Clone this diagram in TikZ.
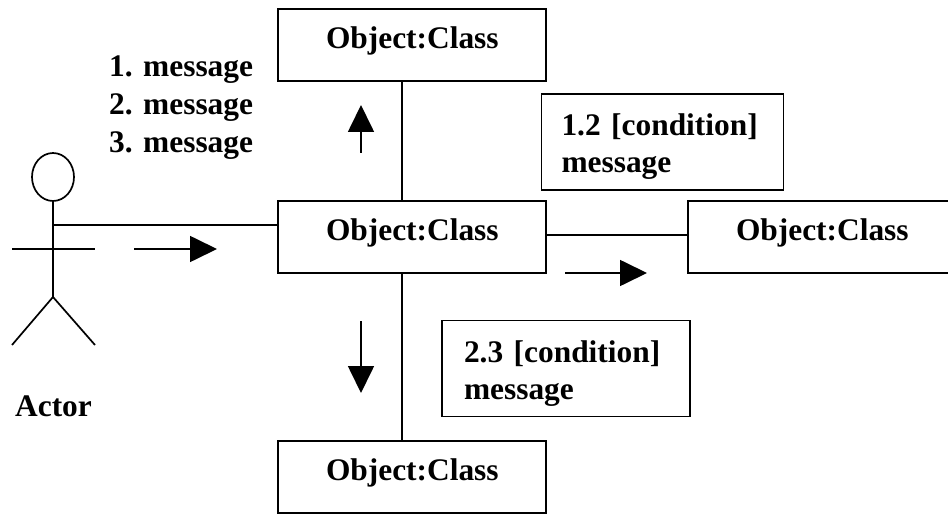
\documentclass[tikz,border=0pt]{standalone}
\usepackage{fontspec}
\setmainfont{Liberation Serif}
\usetikzlibrary{positioning,arrows.meta,shapes.geometric}
\newcommand{\myfont}{\fontsize{31.4}{37}\bfseries\selectfont}
\tikzstyle{block} = [draw, fill=white, rectangle, line width=1.7pt, minimum height=72pt, text width=172pt, inner xsep=48pt, text height=20pt, text depth=13pt, font=\myfont, align=left]
\tikzstyle{note} = [draw, fill=white, rectangle, line width=1.7pt, minimum height=96pt, inner xsep=20pt, text height=31pt, font=\myfont, align=left]
\tikzstyle{line} = [draw, line width=1.7pt]
\tikzstyle{flow} = [line, -{Triangle[length=27pt,width=26pt]}]
\begin{document}
\begin{tikzpicture}[x=1pt, y=1pt, node distance=192.3pt]
        \useasboundingbox (0,0) rectangle (948,-516);

        \node [block] (obj) at (412,-237) {Object:Class};
        \node [block, above of=obj] (top) {Object:Class};
        \node [block, below of=obj, node distance=240pt] (bottom) {Object:Class};
        \node [block, right of=obj, node distance=410pt] (right) {Object:Class};

        \node [note, text width=202pt] (note1) at (662.5,-142) {1.2 [condition]\\message};
        \node [note, text width=204pt, inner xsep=22pt] (note2) at (566,-368.5) {2.3 [condition]\\message};

        \node [font=\myfont, align=left, anchor=north west, inner sep=0pt] (msgs) at (109,-56) {1. message\\[1pt]2. message\\[1pt]3. message};

        % actor
        \node [draw, ellipse, line width=1.7pt, minimum width=42pt, minimum height=48pt, inner sep=0pt] (head) at (53,-177) {};
        \node [coordinate, below of=head, node distance=48pt] (shoulder) {};
        \node [coordinate, below of=head, node distance=72pt] (arms) {};
        \node [coordinate, below of=head, node distance=120pt] (hip) {};
        \node [coordinate, left of=arms, node distance=41pt] (lhand) {};
        \node [coordinate, right of=arms, node distance=42pt] (rhand) {};
        \node [coordinate] (lfoot) at (12,-345) {};
        \node [coordinate] (rfoot) at (95,-345) {};
        \node [font=\myfont, inner sep=0pt] (actor) at (53.5,-406) {Actor};

        \draw [line] (head) -- (hip);
        \draw [line] (lhand) -- (rhand);
        \draw [line] (lfoot) -- (hip) -- (rfoot);

        % links
        \node [coordinate] (actorlink) at (278,-225) {};
        \node [coordinate] (axis) at (402,-237) {};
        \node [coordinate] (rightlink) at (546,-235) {};
        \draw [line] (shoulder) -- (actorlink);
        \draw [line] (axis |- top.south) -- (axis |- obj.north);
        \draw [line] (axis |- obj.south) -- (axis |- bottom.north);
        \draw [line, line width=1.3pt] (rightlink) -- (rightlink -| right.west);

        % message arrows
        \node [coordinate] (a1) at (134,-249) {};
        \node [coordinate] (a2) at (217,-249) {};
        \node [coordinate] (b1) at (361,-153) {};
        \node [coordinate] (b2) at (361,-105) {};
        \node [coordinate] (c1) at (361,-321) {};
        \node [coordinate] (c2) at (361,-393) {};
        \node [coordinate] (d1) at (565,-273) {};
        \node [coordinate] (d2) at (647,-273) {};
        \draw [flow] (a1) -- (a2);
        \draw [flow] (b1) -- (b2);
        \draw [flow] (c1) -- (c2);
        \draw [flow] (d1) -- (d2);
\end{tikzpicture}
\end{document}
